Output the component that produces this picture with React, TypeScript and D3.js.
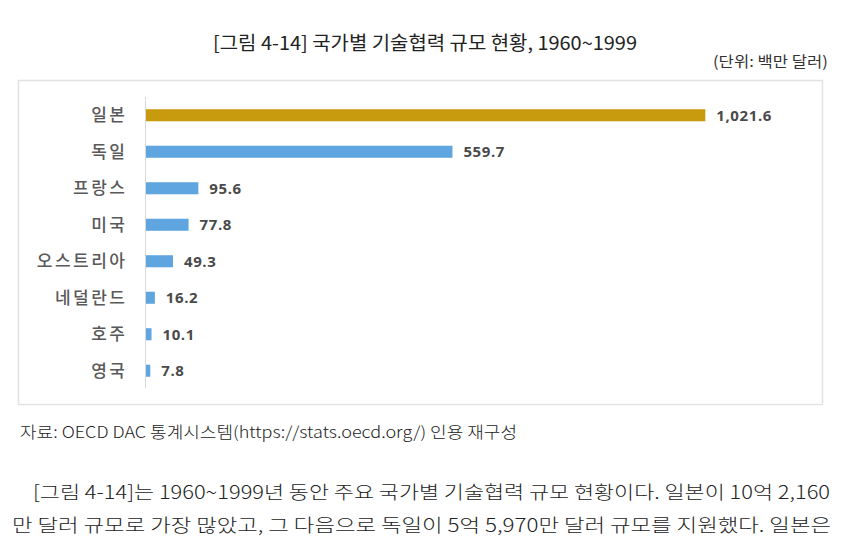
import React from "react";
import * as d3 from "d3";

const countries = ["일본", "독일", "프랑스", "미국", "오스트리아", "네덜란드", "호주", "영국"];
const values = [1021.6, 559.7, 95.6, 77.8, 49.3, 16.2, 10.1, 7.8];
const valueLabels = ["1,021.6", "559.7", "95.6", "77.8", "49.3", "16.2", "10.1", "7.8"];
const xDomainMax = 1200;

const titleText = "[그림 4-14] 국가별 기술협력 규모 현황, 1960~1999";
const unitText = "(단위: 백만 달러)";
const sourceText = "자료: OECD DAC 통계시스템(https://stats.oecd.org/) 인용 재구성";
const paraLine1 = "[그림 4-14]는 1960~1999년 동안 주요 국가별 기술협력 규모 현황이다. 일본이 10억 2,160";
const paraLine2 = "만 달러 규모로 가장 많았고, 그 다음으로 독일이 5억 5,970만 달러 규모를 지원했다. 일본은";

const KR = "'Noto Sans CJK KR', 'Noto Sans', sans-serif";

export default function App() {
  const W = 850;
  const H = 543;
  const x = d3.scaleLinear().domain([0, xDomainMax]).range([146, 803]);
  const y = d3.scaleBand<string>().domain(countries).range([97, 389]).paddingInner(0.67).paddingOuter(0.335);
  const bw = y.bandwidth();

  return (
    <svg
      width={W}
      height={H}
      style={{ position: "absolute", left: 0, top: 0, background: "#fff" }}
    >
      <rect x={0} y={0} width={W} height={H} fill="#fff" />
      {/* title */}
      <text x={213} y={50} fontFamily={KR} fontSize={19} fill="#222" textLength={424} lengthAdjust="spacingAndGlyphs">
        {titleText}
      </text>
      <text x={828} y={67} textAnchor="end" fontFamily={KR} fontSize={15} fill="#333" textLength={115} lengthAdjust="spacingAndGlyphs">
        {unitText}
      </text>
      {/* frame */}
      <rect x={18.5} y={80.5} width={804} height={324} fill="#fff" stroke="#e2e2e2" strokeWidth={1.5} />
      {/* axis line */}
      <line x1={145.5} x2={145.5} y1={97} y2={388} stroke="#d9d9d9" strokeWidth={1} />
      {countries.map((c, i) => {
        const yy = y(c)!;
        const cy = yy + bw / 2;
        return (
          <g key={c}>
            <rect
              x={x(0)}
              y={yy}
              width={Math.max(1.5, x(values[i]) - x(0))}
              height={bw}
              fill={i === 0 ? "#C89A0E" : "#5FA5DF"}
            />
            <text x={127.5} y={cy} dy="0.36em" textAnchor="end" fontFamily={KR} fontSize={17} fontWeight={500} fill="#595959" letterSpacing={2.5}>
              {c}
            </text>
            <text
              x={x(values[i]) + 11}
              y={cy}
              dy="0.36em"
              fontFamily="'Open Sans', 'Liberation Sans', sans-serif"
              fontSize={15}
              fontWeight={700}
              fill="#4a4a4a"
              letterSpacing={0.6}
            >
              {valueLabels[i]}
            </text>
          </g>
        );
      })}
      {/* source */}
      <text x={20} y={438} fontFamily={KR} fontSize={16} fontWeight={300} fill="#222" textLength={497} lengthAdjust="spacingAndGlyphs">
        {sourceText}
      </text>
      {/* paragraph */}
      <text x={33} y={499} fontFamily={KR} fontSize={18.5} fontWeight={300} fill="#222" textLength={797} lengthAdjust="spacingAndGlyphs">
        {paraLine1}
      </text>
      <text x={12} y={532} fontFamily={KR} fontSize={18.5} fontWeight={300} fill="#222" textLength={819} lengthAdjust="spacingAndGlyphs">
        {paraLine2}
      </text>
    </svg>
  );
}
